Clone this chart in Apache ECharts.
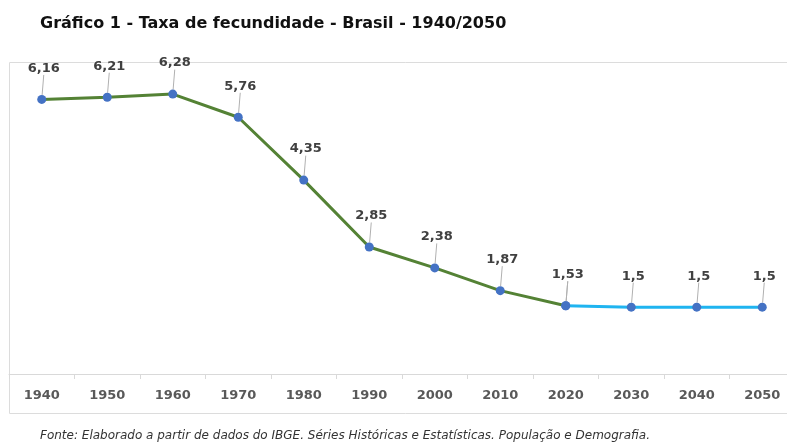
<!DOCTYPE html>
<html lang="pt">
<head>
<meta charset="UTF-8">
<title>Taxa de fecundidade - Brasil</title>
<script src="https://cdn.jsdelivr.net/npm/echarts@6/dist/echarts.min.js"></script>
<style>
    body { margin: 0; padding: 0; background: #fff; overflow: hidden; }
    /* o quadro original continua além da borda direita da imagem */
    #chart { width: 800px; height: 447px; }
</style>
</head>
<body>
<div id="chart"></div>
<script>
    // anos e taxas
    var anos = ['1940', '1950', '1960', '1970', '1980', '1990', '2000', '2010', '2020', '2030', '2040', '2050'];
    var taxas = [6.16, 6.21, 6.28, 5.76, 4.35, 2.85, 2.38, 1.87, 1.53, 1.5, 1.5, 1.5];
    var ultimoObservado = 8; // índice de 2020, onde começa a projeção

    // série observada (verde) e projetada (azul)
    var observado = taxas.map(function (v, i) { return i <= ultimoObservado ? v : '-'; });
    var projetado = taxas.map(function (v, i) { return i >= ultimoObservado ? v : '-'; });

    var fmt = function (p) { return String(p.value).replace('.', ','); };

    var chart = echarts.init(document.getElementById('chart'));

    var rotulo = {
        show: true,
        position: 'top',
        distance: 4,
        formatter: fmt,
        fontFamily: 'DejaVu Sans',
        fontWeight: 'bold',
        fontSize: 13,
        color: '#404040'
    };

    chart.setOption({
        animation: false,
        title: {
            text: 'Gráfico 1 - Taxa de fecundidade - Brasil - 1940/2050',
            left: 35,
            top: 11,
            textStyle: { fontFamily: 'DejaVu Sans', fontWeight: 'bold', fontSize: 16, color: '#111' }
        },
        graphic: [
            {
                type: 'rect',
                shape: { x: 9.5, y: 62.5, width: 800, height: 351 },
                style: { fill: 'none', stroke: '#dcdcdc', lineWidth: 1 },
                z: -1
            },
            {
                type: 'text',
                left: 40,
                top: 430,
                style: {
                    text: 'Fonte: Elaborado a partir de dados do IBGE. Séries Históricas e Estatísticas. População e Demografia.',
                    font: 'italic 12px "DejaVu Sans"',
                    fill: '#333'
                }
            }
        ],
        grid: { left: 9, right: 5, top: 62, bottom: 73 },
        xAxis: {
            type: 'category',
            data: anos,
            boundaryGap: true,
            axisLine: { lineStyle: { color: '#d9d9d9', width: 1 } },
            axisTick: { show: true, length: 5, lineStyle: { color: '#d9d9d9' } },
            axisLabel: {
                margin: 15,
                fontFamily: 'DejaVu Sans',
                fontWeight: 'bold',
                fontSize: 13,
                color: '#595959'
            }
        },
        yAxis: {
            type: 'value',
            min: 0,
            max: 7,
            show: false,
            splitLine: { show: false }
        },
        series: [
            {
                type: 'line',
                data: observado,
                lineStyle: { color: '#548235', width: 3 },
                symbol: 'circle',
                symbolSize: 9,
                itemStyle: { color: '#4472C4' },
                label: rotulo,
                labelLayout: { dy: -16, dx: 2 },
                labelLine: { show: true, lineStyle: { color: '#b0b0b0', width: 1 } },
                z: 2
            },
            {
                type: 'line',
                data: projetado,
                lineStyle: { color: '#1FB4F0', width: 3 },
                symbol: 'circle',
                symbolSize: 9,
                itemStyle: { color: '#4472C4' },
                label: Object.assign({}, rotulo, {
                    formatter: function (p) { return p.dataIndex > ultimoObservado ? fmt(p) : ''; }
                }),
                labelLayout: { dy: -16, dx: 2 },
                labelLine: { show: true, lineStyle: { color: '#b0b0b0', width: 1 } },
                z: 3
            }
        ]
    });

    window.addEventListener('resize', function () {
        chart.resize();
    });
</script>
</body>
</html>
